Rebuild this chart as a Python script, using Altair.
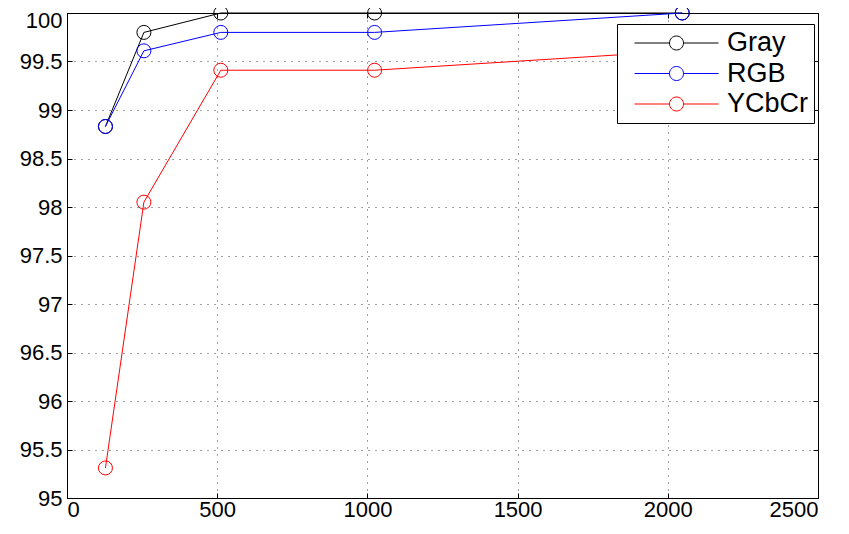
import altair as alt
import pandas as pd

# --- data ---
sizes = [128, 256, 512, 1024, 2048]
gray = [98.83, 99.80, 100.0, 100.0, 100.0]
rgb = [98.83, 99.61, 99.80, 99.80, 100.0]
ycbcr = [95.31, 98.05, 99.41, 99.41, 99.61]
series = ["Gray", "RGB", "YCbCr"]
colors = ["#000000", "#0000ff", "#ff0000"]
x_ticks = [0, 500, 1000, 1500, 2000, 2500]
y_ticks = [95, 95.5, 96, 96.5, 97, 97.5, 98, 98.5, 99, 99.5, 100]

rows = []
for name, vals in zip(series, [gray, rgb, ycbcr]):
    for s, v in zip(sizes, vals):
        rows.append({"size": s, "acc": v, "series": name})
df = pd.DataFrame(rows)

# legend glyph: line with an open circle in the middle (unit box -1..1)
r = 0.167
sym_path = (f"M-1,0H-{r}M{r},0H1"
            f"M{r},0A{r},{r},0,1,1,-{r},0A{r},{r},0,1,1,{r},0")

color = alt.Color(
    "series:N",
    scale=alt.Scale(domain=series, range=colors),
    legend=alt.Legend(
        title=None, orient="none", legendX=550, legendY=11,
        symbolType=sym_path, symbolSize=7056, symbolStrokeWidth=1,
        symbolFillColor="transparent", clipHeight=28, rowPadding=2.5,
        padding=5, symbolOffset=12, labelOffset=8,
        labelFont="Liberation Sans", labelFontSize=27, labelColor="#000",
        strokeColor="#000", fillColor="#ffffff", labelLimit=400,
        cornerRadius=0,
    ),
)

xscale = alt.Scale(domain=[0, 2500], nice=False, zero=False)
yscale = alt.Scale(domain=[95, 100], nice=False, zero=False)

x_main = alt.X("size:Q", scale=xscale,
               axis=alt.Axis(values=x_ticks, title=None, labelPadding=6,
                             format="d", ticks=True, orient="bottom",
                             tickSize=alt.ExprRef("-5"), tickColor="#000"))
y_main = alt.Y("acc:Q", scale=yscale,
               axis=alt.Axis(values=y_ticks, title=None, labelPadding=10,
                             format="~g", ticks=True, orient="left",
                             tickSize=alt.ExprRef("-5"), tickColor="#000",
                             labelOffset=alt.ExprRef("datum.value == 100 ? 7 : 0")))
x_top = alt.X("size:Q", scale=xscale,
              axis=alt.Axis(values=x_ticks, title=None, orient="top",
                            labels=False, grid=False, domain=False, ticks=True,
                            tickSize=alt.ExprRef("-5"), tickColor="#000"))
y_right = alt.Y("acc:Q", scale=yscale,
                axis=alt.Axis(values=y_ticks, title=None, orient="right",
                              labels=False, grid=False, domain=False, ticks=True,
                              tickSize=alt.ExprRef("-5"), tickColor="#000"))

lines = alt.Chart(df).mark_line(strokeWidth=1, clip=False).encode(
    x=x_main, y=y_main, color=color, detail="series:N")
points = alt.Chart(df).mark_point(shape="circle", size=196, filled=False,
                                  strokeWidth=1, opacity=1, clip=False).encode(
    x=x_top, y=y_right, color=color)

chart = alt.layer(lines, points).resolve_axis(
    x="independent", y="independent"
).properties(
    width=751, height=485,
    autosize=alt.AutoSizeParams(type="none"),
    padding={"left": 59, "top": 5, "right": 23, "bottom": 28},
    background="#ffffff",
).configure_view(
    stroke="#000000", strokeWidth=1
).configure_axis(
    labelFont="Liberation Sans", labelFontSize=22, labelColor="#000000",
    domainColor="#000000", domainWidth=1,
    gridColor="#000000", gridOpacity=0.75, gridDash=[1, 6],
    gridWidth=1,
)

chart.save("out.html", embed_options={"renderer": "svg", "actions": False})
